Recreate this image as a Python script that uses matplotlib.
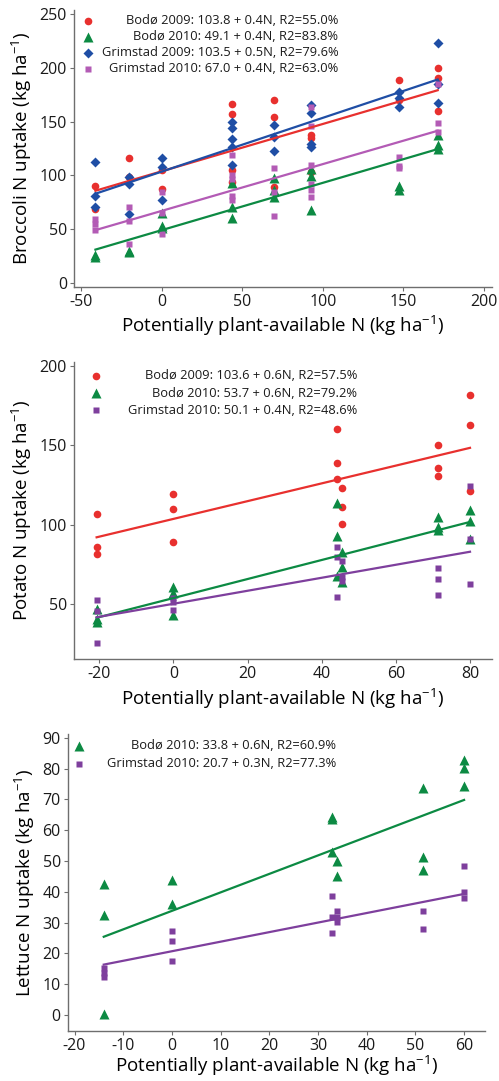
import matplotlib
matplotlib.use("Agg")
import matplotlib.pyplot as plt
import numpy as np

plt.rcParams['font.family'] = ['Open Sans', 'DejaVu Sans']
plt.rcParams['mathtext.fontset'] = 'custom'
plt.rcParams['mathtext.rm'] = 'Open Sans'
plt.rcParams['mathtext.it'] = 'Open Sans:italic'
plt.rcParams['axes.unicode_minus'] = False

RED = '#e8302e'
GREEN = '#0c8a43'
BLUE = '#1f4ea5'
ORCHID = '#b35bb5'
PURPLE = '#7e3f9d'

# ---- broccoli ----
broc_b09_x = [-41, -41, -20, -20, 0, 0, 43.4, 43.4, 43.4, 43.4, 70, 70, 70,
              92.6, 92.6, 92.6, 147.3, 147.3, 171.3, 171.3, 171.3]
broc_b09_y = [90.4, 68.6, 116.2, 98.8, 105, 87.5, 166.5, 157.2, 105, 94, 170.5, 154.6, 89.6,
              137.5, 134.4, 103.2, 188.5, 170, 199.5, 190.2, 160]
broc_b10_x = [-41, -41, -20, -20, 0, 0, 0, 43.4, 43.4, 43.4, 70, 70, 70,
              92.6, 92.6, 92.6, 147.3, 147.3, 171.3, 171.3, 171.3]
broc_b10_y = [26, 24.5, 30, 29, 65.5, 53, 50.8, 92.5, 70.6, 60.7, 98, 86, 79.5,
              106, 99.4, 67.5, 90.6, 86.8, 137.5, 128, 124.8]
broc_g09_x = [-41, -41, -41, -20, -20, -20, 0, 0, 0, 43.4, 43.4, 43.4, 43.4, 43.4,
              70, 70, 70, 92.6, 92.6, 92.6, 92.6, 147.3, 147.3, 147.3, 171.3, 171.3, 171.3]
broc_g09_y = [112.5, 81.2, 70.3, 98.8, 92.3, 63.8, 116.2, 107.6, 77.6, 150, 143.8, 133.6, 126.1, 109.8,
              147, 136, 122.7, 165.8, 157.7, 128.9, 126.6, 177.5, 172.2, 163.2, 223.3, 167.5, 185]
broc_g10_x = [-41, -41, -41, -20, -20, -20, 0, 0, 0, 43.4, 43.4, 43.4, 43.4, 43.4,
              70, 70, 70, 92.6, 92.6, 92.6, 92.6, 92.6, 92.6, 147.3, 147.3, 147.3, 171.3, 171.3, 171.3]
broc_g10_y = [59.5, 54.8, 49.3, 70.3, 57.6, 36.7, 85, 65.5, 46, 119, 100.5, 96.4, 80.5, 77,
              107.2, 84.5, 62.3, 163.9, 146, 109.5, 92, 86.5, 80, 117.2, 108.5, 106.5, 185, 149, 140.6]
# intercept, slope, R2
broc_fit = {'b09': (103.8, 0.44, 55.0), 'b10': (49.1, 0.44, 83.8),
            'g09': (103.5, 0.50, 79.6), 'g10': (67.0, 0.435, 63.0)}

# ---- potato ----
pot_x = [-20.7, -20.7, -20.7, 0, 0, 0, 44.1, 44.1, 44.1, 45.5, 45.5, 45.5,
         71.3, 71.3, 71.3, 80, 80, 80]
pot_b09_y = [106.6, 85.9, 81.5, 119.6, 110.1, 89.1, 160.3, 138.7, 128.8, 123.1, 111.3, 100.2,
             150, 135.8, 130.7, 181.6, 162.9, 121.2]
pot_b10_y = [46.5, 40.4, 38.9, 60.9, 56.7, 43.1, 113.9, 93.1, 67.7, 83, 73.5, 63.7,
             105, 98.7, 96.7, 109, 102.3, 90.8]
pot_g10_y = [52.5, 45.6, 25.2, 53.5, 51.5, 46.2, 86.1, 79.8, 54.4, 77.3, 66.8, 64.7,
             72.9, 66, 55.5, 124.4, 90.8, 62.7]
pot_fit = {'b09': (103.6, 0.56, 57.5), 'b10': (53.7, 0.60, 79.2), 'g10': (50.1, 0.41, 48.6)}

# ---- lettuce ----
let_b10_x = [-14, -14, -14, 0, 0, 32.8, 32.8, 32.8, 33.9, 33.9, 51.5, 51.5, 51.5, 60, 60, 60]
let_b10_y = [42.6, 32.4, 0.4, 43.8, 36.1, 64.4, 63.5, 52.9, 50, 45.1, 73.6, 51.3, 47.1, 82.8, 80.2, 74.3]
let_g10_x = [-14, -14, -14, 0, 0, 0, 32.8, 32.8, 32.8, 33.9, 33.9, 33.9, 51.5, 51.5, 60, 60, 60]
let_g10_y = [15.2, 13.5, 12.4, 27.2, 24, 17.6, 38.7, 31.7, 26.5, 33.8, 31.9, 30.2, 33.8, 27.8, 48.4, 40, 38.1]
let_fit = {'b10': (33.8, 0.60, 60.9), 'g10': (20.7, 0.31, 77.3)}

XLAB = 'Potentially plant-available N (kg ha$^{-1}$)'


def style(ax):
    for s in ['top', 'right']:
        ax.spines[s].set_visible(False)
    for s in ['left', 'bottom']:
        ax.spines[s].set_color('#6e6e6e')
        ax.spines[s].set_linewidth(1.0)
    ax.tick_params(direction='out', length=3, width=0.8, color='#6e6e6e',
                   labelsize=11.5, labelcolor='#1a1a1a', pad=2)


def series(ax, x, y, fit, color, marker, ms):
    a, b, r2 = fit
    ax.plot(x, y, ls='none', marker=marker, color=color, ms=ms, mec='none', zorder=3)
    xs = np.array([min(x), max(x)])
    ax.plot(xs, a + b * xs, color=color, lw=1.6, zorder=4)


def legend(ax, rows, mx, tx, y0, dy):
    for i, (name, fit, color, marker, ms) in enumerate(rows):
        a, b, r2 = fit
        y = y0 - i * dy
        ax.plot([mx], [y], transform=ax.transAxes, ls='none', marker=marker, color=color,
                ms=ms, mec='none', clip_on=False)
        ax.text(tx, y, f'{name}: {a:.1f} + {b:.1f}N, R2={r2:.1f}%', transform=ax.transAxes,
                ha='right', va='center', fontsize=9.3, color='#1a1a1a')


fig = plt.figure(figsize=(4.99, 10.81), dpi=100)

# broccoli panel
ax1 = fig.add_axes([0.1483, 0.7345, 0.8377, 0.2562])
style(ax1)
series(ax1, broc_b09_x, broc_b09_y, broc_fit['b09'], RED, 'o', 5.5)
series(ax1, broc_b10_x, broc_b10_y, broc_fit['b10'], GREEN, '^', 6.5)
series(ax1, broc_g09_x, broc_g09_y, broc_fit['g09'], BLUE, 'D', 5)
series(ax1, broc_g10_x, broc_g10_y, broc_fit['g10'], ORCHID, 's', 5)
ax1.set_xlim(-54.3, 205)
ax1.set_ylim(-3.7, 253.7)
ax1.set_xticks([-50, 0, 50, 100, 150, 200])
ax1.set_yticks([0, 50, 100, 150, 200, 250])
ax1.set_xlabel(XLAB, fontsize=13.5, labelpad=3)
ax1.set_ylabel('Broccoli N uptake (kg ha$^{-1}$)', fontsize=13.5)
legend(ax1, [('Bodø 2009', broc_fit['b09'], RED, 'o', 5.5),
             ('Bodø 2010', broc_fit['b10'], GREEN, '^', 6.5),
             ('Grimstad 2009', broc_fit['g09'], BLUE, 'D', 5),
             ('Grimstad 2010', broc_fit['g10'], ORCHID, 's', 5)],
       0.034, 0.632, 0.962, 0.058)

# potato panel
ax2 = fig.add_axes([0.1483, 0.3901, 0.8367, 0.2750])
style(ax2)
series(ax2, pot_x, pot_b09_y, pot_fit['b09'], RED, 'o', 5.5)
series(ax2, pot_x, pot_b10_y, pot_fit['b10'], GREEN, '^', 6.5)
series(ax2, pot_x, pot_g10_y, pot_fit['g10'], PURPLE, 's', 5)
ax2.set_xlim(-26.8, 85.8)
ax2.set_ylim(15.1, 202.5)
ax2.set_xticks([-20, 0, 20, 40, 60, 80])
ax2.set_yticks([50, 100, 150, 200])
ax2.set_xlabel(XLAB, fontsize=13.5, labelpad=3)
ax2.set_ylabel('Potato N uptake (kg ha$^{-1}$)', fontsize=13.5)
legend(ax2, [('Bodø 2009', pot_fit['b09'], RED, 'o', 5.5),
             ('Bodø 2010', pot_fit['b10'], GREEN, '^', 6.5),
             ('Grimstad 2010', pot_fit['g10'], PURPLE, 's', 5)],
       0.052, 0.678, 0.953, 0.058)

# lettuce panel
ax3 = fig.add_axes([0.1357, 0.0465, 0.8363, 0.2745])
style(ax3)
series(ax3, let_b10_x, let_b10_y, let_fit['b10'], GREEN, '^', 6.5)
series(ax3, let_g10_x, let_g10_y, let_fit['g10'], PURPLE, 's', 5)
ax3.set_xlim(-21.4, 64.3)
ax3.set_ylim(-5.1, 91.2)
ax3.set_xticks([-20, -10, 0, 10, 20, 30, 40, 50, 60])
ax3.set_yticks(range(0, 91, 10))
ax3.set_xlabel(XLAB, fontsize=13.5, labelpad=0)
ax3.set_ylabel('Lettuce N uptake (kg ha$^{-1}$)', fontsize=13.5)
legend(ax3, [('Bodø 2010', let_fit['b10'], GREEN, '^', 6.5),
             ('Grimstad 2010', let_fit['g10'], PURPLE, 's', 5)],
       0.026, 0.644, 0.96, 0.06)

fig.savefig('out.png', dpi=100)
